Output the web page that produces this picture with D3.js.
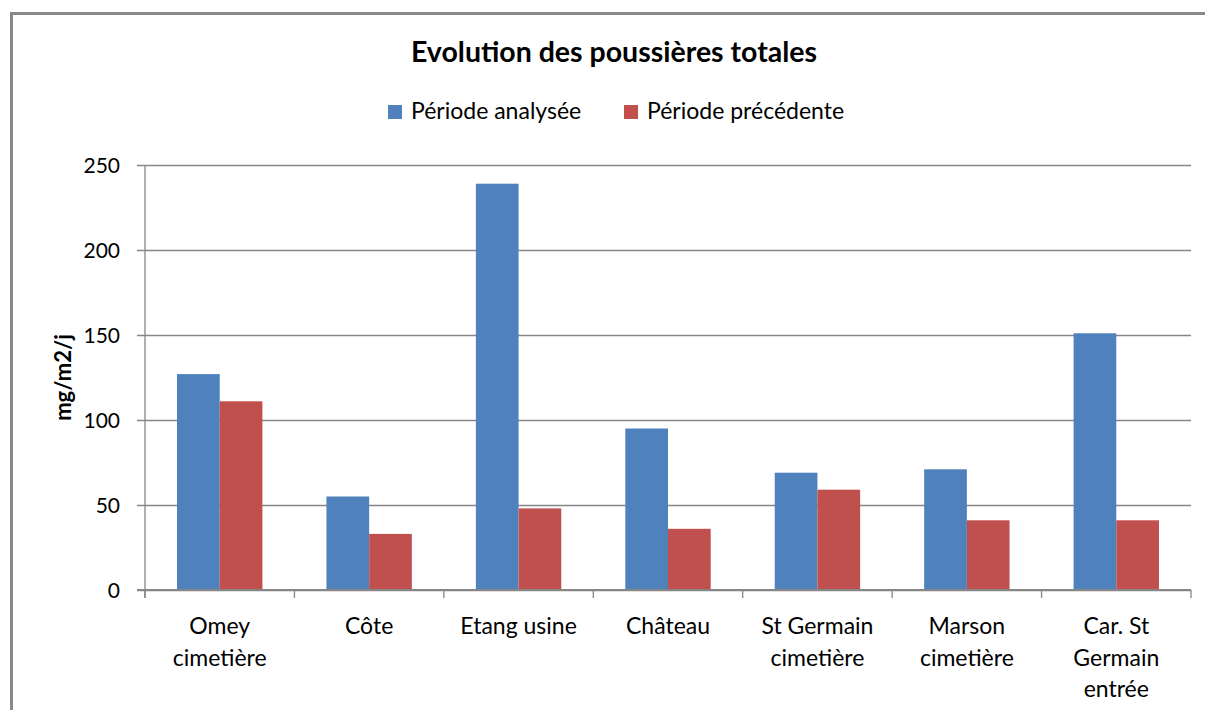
<!DOCTYPE html>
<html>
<head>
<meta charset="utf-8">
<script src="https://cdn.jsdelivr.net/npm/d3@7"></script>
<style>
  body { margin: 0; background: #fff; }
  text { font-family: Lato, "Open Sans", sans-serif; fill: #000; }
</style>
</head>
<body>
<div id="chart-container"></div>
<script>
// data
const categories = ["Omey\ncimetière", "Côte", "Etang usine", "Château", "St Germain\ncimetière", "Marson\ncimetière", "Car. St\nGermain\nentrée"];
const analysee = [127, 55, 239, 95, 69, 71, 151];
const precedente = [111, 33, 48, 36, 59, 41, 41];
const seriesNames = ["Période analysée", "Période précédente"];
const seriesColors = ["#4F81BD", "#C0504D"];
const yTicks = [0, 50, 100, 150, 200, 250];

const W = 1205, H = 710;
const margin = { top: 165, right: 14, bottom: 120, left: 145 };
const width = W - margin.left - margin.right;
const height = H - margin.top - margin.bottom;

const root = d3.select("#chart-container")
  .append("svg")
  .attr("width", W)
  .attr("height", H);

// outer chart border (runs off the right and bottom edge)
root.append("rect")
  .attr("x", 11.5)
  .attr("y", 13.5)
  .attr("width", W + 20)
  .attr("height", H + 20)
  .attr("fill", "none")
  .attr("stroke", "#898989")
  .attr("stroke-width", 3);

const svg = root.append("g")
  .attr("transform", `translate(${margin.left},${margin.top})`);

const x = d3.scaleBand()
  .domain(categories)
  .range([0, width]);

const xInner = d3.scaleBand()
  .domain([0, 1])
  .range([0, x.bandwidth()])
  .paddingOuter(0.75);

const y = d3.scaleLinear()
  .domain([0, 250])
  .range([height, 0]);

// gridlines + y ticks
svg.append("g")
  .attr("class", "grid")
  .call(d3.axisLeft(y).tickValues(yTicks).tickSize(-width).tickFormat(""))
  .call(g => g.select(".domain").remove())
  .selectAll("line")
  .attr("stroke", "#868686")
  .attr("stroke-width", 1.3)
  .attr("x1", -8);

svg.append("g")
  .call(d3.axisLeft(y).tickValues(yTicks).tickSize(0).tickPadding(25))
  .call(g => g.select(".domain").remove())
  .selectAll("text")
  .style("font-size", "21px")
  .attr("dy", "0.35em");

// y axis line
svg.append("line")
  .attr("x1", 0).attr("x2", 0)
  .attr("y1", 0).attr("y2", height + 8)
  .attr("stroke", "#868686")
  .attr("stroke-width", 1.3);

// bars
const groups = svg.selectAll(".cat")
  .data(categories.map((c, i) => ({ cat: c, vals: [analysee[i], precedente[i]] })))
  .join("g")
  .attr("class", "cat")
  .attr("transform", d => `translate(${x(d.cat)},0)`);

groups.selectAll("rect")
  .data(d => d.vals.map((v, k) => ({ k, v })))
  .join("rect")
  .attr("x", d => xInner(d.k))
  .attr("width", xInner.bandwidth())
  .attr("y", d => y(d.v))
  .attr("height", d => height - y(d.v))
  .attr("fill", d => seriesColors[d.k]);

// x axis
const xAxis = svg.append("g")
  .attr("transform", `translate(0,${height})`);

xAxis.append("line")
  .attr("x1", -8).attr("x2", width)
  .attr("stroke", "#868686")
  .attr("stroke-width", 2.2);

xAxis.selectAll(".xtick")
  .data(d3.range(categories.length + 1))
  .join("line")
  .attr("class", "xtick")
  .attr("x1", i => i * x.step()).attr("x2", i => i * x.step())
  .attr("y1", 0).attr("y2", 8)
  .attr("stroke", "#868686")
  .attr("stroke-width", 1.3);

xAxis.selectAll(".xlabel")
  .data(categories)
  .join("text")
  .attr("class", "xlabel")
  .attr("text-anchor", "middle")
  .style("font-size", "23px")
  .attr("transform", d => `translate(${x(d) + x.bandwidth() / 2},44)`)
  .selectAll("tspan")
  .data(d => d.split("\n"))
  .join("tspan")
  .attr("x", 0)
  .attr("y", (d, i) => i * 31.5)
  .text(d => d);

// y axis title
svg.append("text")
  .attr("transform", `translate(-82,${height / 2}) rotate(-90)`)
  .attr("text-anchor", "middle")
  .attr("dy", "0.35em")
  .style("font-size", "22px")
  .style("font-weight", "bold")
  .text("mg/m2/j");

// title
root.append("text")
  .attr("x", 614)
  .attr("y", 62)
  .attr("text-anchor", "middle")
  .style("font-size", "28.5px")
  .style("font-weight", "bold")
  .text("Evolution des poussières totales");

// legend
const legendX = [388, 624];
const legend = root.selectAll(".legend")
  .data(seriesNames)
  .join("g")
  .attr("class", "legend")
  .attr("transform", (d, i) => `translate(${legendX[i]},105)`);

legend.append("rect")
  .attr("width", 14)
  .attr("height", 14)
  .attr("fill", (d, i) => seriesColors[i]);

legend.append("text")
  .attr("x", 23)
  .attr("y", 14)
  .style("font-size", "23px")
  .text(d => d);
</script>
</body>
</html>
